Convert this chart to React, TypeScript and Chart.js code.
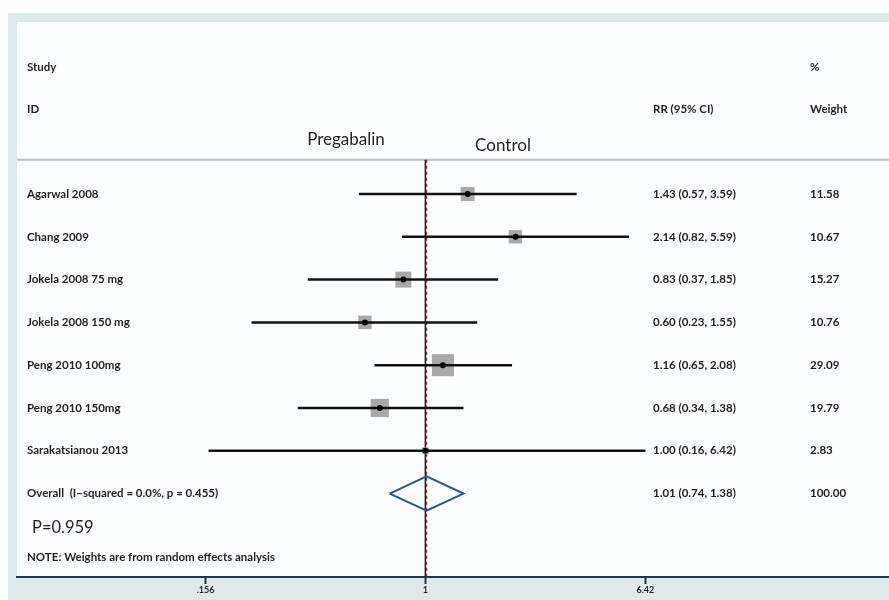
import React, { useEffect, useRef } from "react";
import { Chart, registerables } from "chart.js";

Chart.register(...registerables);

const studies = [
  "Agarwal 2008",
  "Chang 2009",
  "Jokela 2008 75 mg",
  "Jokela 2008 150 mg",
  "Peng 2010 100mg",
  "Peng 2010 150mg",
  "Sarakatsianou 2013",
];
const rr = [1.43, 2.14, 0.83, 0.6, 1.16, 0.68, 1.0];
const ciLow = [0.57, 0.82, 0.37, 0.23, 0.65, 0.34, 0.16];
const ciHigh = [3.59, 5.59, 1.85, 1.55, 2.08, 1.38, 6.42];
const weights = [11.58, 10.67, 15.27, 10.76, 29.09, 19.79, 2.83];

const overallLabel = "Overall  (I\u2212squared = 0.0%, p = 0.455)";
const overallRR = 1.01;
const overallLow = 0.74;
const overallHigh = 1.38;
const overallWeight = "100.00";

const xTickValues = [0.156, 1, 6.42];
const xTickLabels = [".156", "1", "6.42"];

const FONT = "Lato, 'Open Sans', sans-serif";
const TEXT = "#231f20";

function fmt(v: number) {
  return v.toFixed(2);
}

export default function App() {
  const ref = useRef<HTMLCanvasElement | null>(null);

  useEffect(() => {
    document.body.style.margin = "0";
    const canvas = ref.current;
    if (!canvas) return;
    const nRows = studies.length;
    const overallRow = nRows;

    const ciDatasets = studies.map((s, i) => ({
      label: s,
      data: [
        { x: ciLow[i], y: i },
        { x: ciHigh[i], y: i },
      ],
      showLine: true,
      borderColor: "#111111",
      borderWidth: 2.5,
      pointRadius: 0,
      order: 1,
    }));

    const bgPlugin = {
      id: "bg",
      beforeDraw(chart: any) {
        const { ctx, chartArea, width, height } = chart;
        ctx.save();
        ctx.fillStyle = "#ffffff";
        ctx.fillRect(0, 0, width, height);
        ctx.fillStyle = "#dfe8eb";
        ctx.fillRect(8, 13, width - 8, height - 13);
        ctx.fillStyle = "#fcfdfe";
        ctx.fillRect(chartArea.left, chartArea.top, chartArea.right - chartArea.left, chartArea.bottom - chartArea.top);
        const ys = chart.scales.y;
        const sepY = ys.getPixelForValue(-0.8);
        ctx.strokeStyle = "#b8c1c5";
        ctx.lineWidth = 2;
        ctx.beginPath();
        ctx.moveTo(chartArea.left, sepY);
        ctx.lineTo(chartArea.right, sepY);
        ctx.stroke();
        ctx.restore();
      },
    };

    const textPlugin = {
      id: "texts",
      afterDraw(chart: any) {
        const { ctx } = chart;
        const ys = chart.scales.y;
        const labelX = 27;
        const rrX = 653;
        const wX = 810;
        ctx.save();
        ctx.fillStyle = TEXT;
        ctx.textBaseline = "middle";
        ctx.textAlign = "left";
        ctx.font = `bold 11.5px ${FONT}`;
        ctx.fillText("Study", labelX, ys.getPixelForValue(-2.97));
        ctx.fillText("ID", labelX, ys.getPixelForValue(-1.97));
        ctx.fillText("%", wX, ys.getPixelForValue(-2.97));
        ctx.fillText("RR (95% CI)", rrX, ys.getPixelForValue(-1.97));
        ctx.fillText("Weight", wX, ys.getPixelForValue(-1.97));
        studies.forEach((s, i) => {
          const y = ys.getPixelForValue(i);
          ctx.fillText(s, labelX, y);
          ctx.fillText(`${fmt(rr[i])} (${fmt(ciLow[i])}, ${fmt(ciHigh[i])})`, rrX, y);
          ctx.fillText(fmt(weights[i]), wX, y);
        });
        const oy = ys.getPixelForValue(overallRow);
        ctx.fillText(overallLabel, labelX, oy);
        ctx.fillText(`${fmt(overallRR)} (${fmt(overallLow)}, ${fmt(overallHigh)})`, rrX, oy);
        ctx.fillText(overallWeight, wX, oy);
        ctx.fillText("NOTE: Weights are from random effects analysis", labelX, ys.getPixelForValue(8.5));
        ctx.font = `16.5px ${FONT}`;
        ctx.fillText("P=0.959", 32, ys.getPixelForValue(7.8));
        ctx.font = `17px ${FONT}`;
        ctx.textAlign = "center";
        ctx.fillText("Pregabalin", 346, ys.getPixelForValue(-1.27));
        ctx.fillText("Control", 503, ys.getPixelForValue(-1.13));
        ctx.restore();
      },
    };

    const chart = new Chart(canvas, {
      type: "scatter",
      data: {
        datasets: [
          {
            label: "center",
            data: rr.map((v, i) => ({ x: v, y: i })),
            pointStyle: "circle",
            pointRadius: 3,
            backgroundColor: "#000000",
            borderWidth: 0,
            order: 0,
          },
          {
            label: "overall",
            data: [
              { x: overallLow, y: overallRow },
              { x: overallRR, y: overallRow - 0.4 },
              { x: overallHigh, y: overallRow },
              { x: overallRR, y: overallRow + 0.4 },
              { x: overallLow, y: overallRow },
            ],
            showLine: true,
            borderColor: "#2a5580",
            borderWidth: 2,
            pointRadius: 0,
            order: 0,
          },
          ...ciDatasets,
          {
            label: "weight boxes",
            data: rr.map((v, i) => ({ x: v, y: i })),
            pointStyle: "rect",
            pointRadius: weights.map((w) => (4.1 * Math.sqrt(w)) / Math.SQRT2),
            backgroundColor: "#a9a9aa",
            borderWidth: 0,
            order: 2,
          },
          {
            label: "null line",
            data: [
              { x: 1, y: -0.8 },
              { x: 1, y: 9 },
            ],
            showLine: true,
            borderColor: "#2b2020",
            borderWidth: 1.6,
            pointRadius: 0,
            order: 3,
          },
          {
            label: "overall line",
            data: [
              { x: overallRR, y: -0.8 },
              { x: overallRR, y: 9 },
            ],
            showLine: true,
            borderColor: "#8a3b35",
            borderWidth: 1.2,
            borderDash: [3, 3],
            pointRadius: 0,
            order: 3,
          },
        ] as any,
      },
      options: {
        animation: false,
        responsive: false,
        devicePixelRatio: 1,
        layout: { padding: { left: 17, right: 0, top: 22, bottom: 0 }, autoPadding: false },
        plugins: { legend: { display: false }, tooltip: { enabled: false } },
        scales: {
          x: {
            type: "logarithmic",
            min: 0.0317,
            max: 50.3,
            afterBuildTicks: (scale: any) => {
              scale.ticks = xTickValues.map((v) => ({ value: v }));
            },
            afterFit: (scale: any) => {
              scale.height = 23;
              scale.paddingLeft = 0;
              scale.paddingRight = 0;
            },
            ticks: {
              autoSkip: false,
              maxRotation: 0,
              padding: 1,
              color: TEXT,
              font: { family: FONT, size: 9, weight: "bold" },
              callback: (_v: any, i: number) => xTickLabels[i],
            },
            grid: {
              drawOnChartArea: false,
              drawTicks: true,
              tickLength: 7,
              tickWidth: 2,
              color: "#1e3746",
            },
            border: { display: true, color: "#1e3746", width: 2 },
          },
          y: {
            type: "linear",
            display: false,
            reverse: true,
            min: -4.02,
            max: 8.95,
          },
        },
      },
      plugins: [bgPlugin, textPlugin],
    } as any);

    return () => chart.destroy();
  }, []);

  return <canvas ref={ref} width={889} height={600} style={{ display: "block", width: 889, height: 600 }} />;
}
